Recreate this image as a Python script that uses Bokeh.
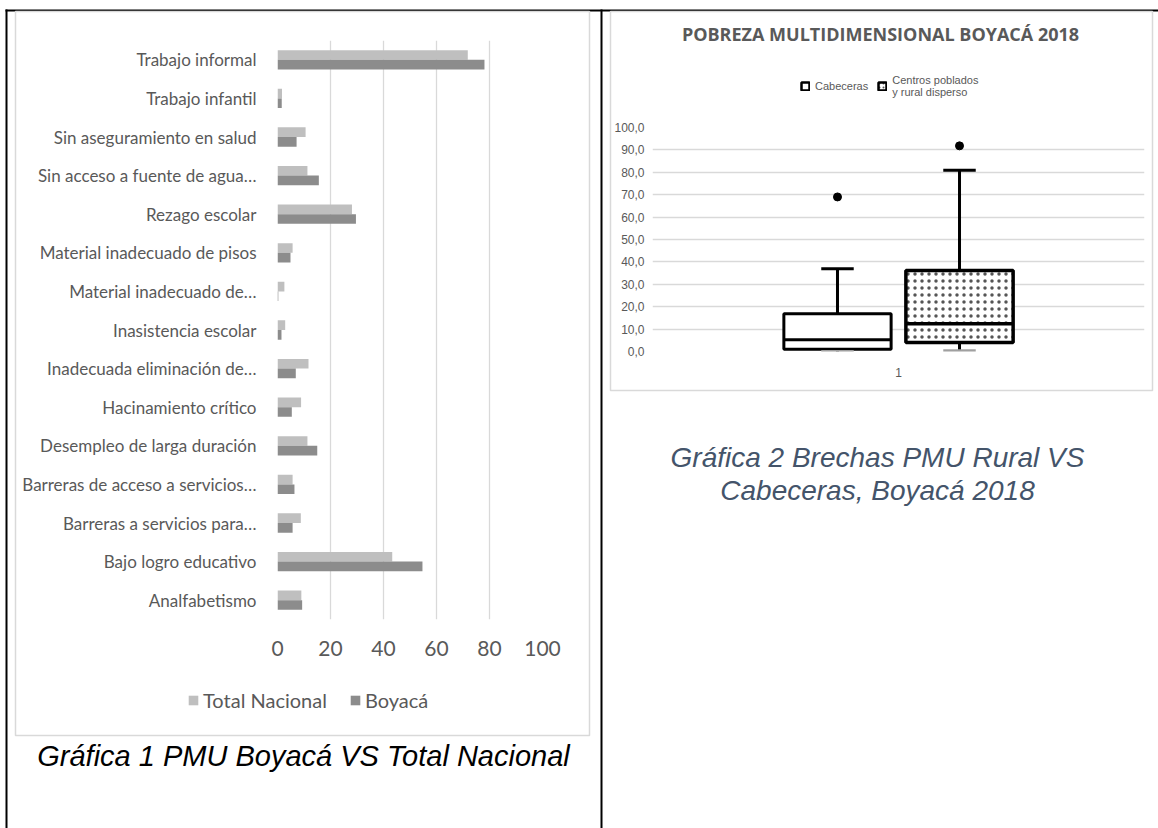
from bokeh.plotting import figure
from bokeh.models import (ColumnDataSource, FactorRange, Legend, LegendItem,
                          FixedTicker, Range1d)
from bokeh.transform import dodge
from bokeh.core.properties import value
from bokeh.embed import file_html
from bokeh.resources import INLINE

# ---------------- data: chart 1 ----------------
categories = [
    "Trabajo informal", "Trabajo infantil", "Sin aseguramiento en salud",
    "Sin acceso a fuente de agua…", "Rezago escolar", "Material inadecuado de pisos",
    "Material inadecuado de…", "Inasistencia escolar", "Inadecuada eliminación de…",
    "Hacinamiento crítico", "Desempleo de larga duración",
    "Barreras de acceso a servicios…", "Barreras a servicios para…",
    "Bajo logro educativo", "Analfabetismo",
]
total_nacional = [71.8, 1.7, 10.6, 11.3, 28.1, 5.7, 2.6, 2.9, 11.7, 8.9, 11.3, 5.7, 8.8, 43.3, 9.0]
boyaca = [78.1, 1.6, 7.2, 15.6, 29.6, 4.9, 0.3, 1.5, 6.9, 5.4, 15.0, 6.4, 5.7, 54.7, 9.3]
series_names = ["Total Nacional", "Boyacá"]
x_ticks = [0, 20, 40, 60, 80, 100]
caption1 = "Gráfica 1 PMU Boyacá VS Total Nacional"

# ---------------- data: chart 2 ----------------
box_title = "POBREZA MULTIDIMENSIONAL BOYACÁ 2018"
box_category = "1"
box_groups = ["Cabeceras", "Centros poblados\ny rural disperso"]
box_low = [0.0, 0.3]
box_q1 = [1.0, 4.0]
box_median = [5.2, 12.4]
box_q3 = [16.8, 36.2]
box_high = [36.9, 80.9]
box_outlier = [69.0, 91.8]
y_ticks = [0, 10, 20, 30, 40, 50, 60, 70, 80, 90, 100]
y_tick_labels = ["0,0", "10,0", "20,0", "30,0", "40,0", "50,0", "60,0", "70,0", "80,0", "90,0", "100,0"]
caption2 = ["Gráfica 2 Brechas PMU Rural VS", "Cabeceras, Boyacá 2018"]

# ---------------- styles ----------------
TXT = "#595959"
GRID = "#d9d9d9"
FONT = "Lato"
LIGHT = "#bfbfbf"
DARK = "#8c8c8c"
NAN = float("nan")


def pos(left, top):
    return {"position": "absolute", "left": f"{left}px", "top": f"{top}px"}


def set_borders(p, l, r, t, b):
    p.min_border_left, p.min_border_right, p.min_border_top, p.min_border_bottom = l, r, t, b


# ================= page background (table lines, frames, captions, legends) =================
bg = figure(width=1158, height=828, x_range=Range1d(0, 1158), y_range=Range1d(828, 0),
            x_axis_location=None, y_axis_location=None, toolbar_location=None,
            output_backend="svg", styles=pos(0, 0))
set_borders(bg, 0, 0, 0, 0)
bg.xgrid.visible = False
bg.ygrid.visible = False
bg.outline_line_color = None
bg.background_fill_color = "white"
bg.border_fill_color = "white"

# table lines (black) and chart frames (light gray)
bg.quad(left=[5, 5, 600], right=[1158, 7, 602], top=[9, 9, 9], bottom=[11, 828, 828],
        fill_color="black", line_color=None)
bg.quad(left=[15, 610], right=[589, 1152], top=[11, 11], bottom=[735, 390],
        fill_color=None, line_color=GRID, line_width=1.5)

# captions and chart 2 title
bg.text(x=[303], y=[755], text=[caption1], text_align="center", text_baseline="middle",
        text_font=value("Liberation Sans"), text_font_style="italic",
        text_font_size="29px", text_color="black")
bg.text(x=[877, 877], y=[457, 490], text=caption2, text_align="center", text_baseline="middle",
        text_font=value("Liberation Sans"), text_font_style="italic",
        text_font_size="28px", text_color="#44546a")
bg.text(x=[880], y=[33], text=[box_title], text_align="center", text_baseline="middle",
        text_font=value("Open Sans"), text_font_style="bold",
        text_font_size="18px", text_color=TXT)

# legend proxies (same styles as the chart glyphs; they draw nothing themselves)
lp_tn = bg.quad(left=[NAN], right=[NAN], top=[NAN], bottom=[NAN], fill_color=LIGHT,
                line_color=None)
lp_by = bg.quad(left=[NAN], right=[NAN], top=[NAN], bottom=[NAN], fill_color=DARK,
                line_color=None)
leg1 = Legend(items=[LegendItem(label=series_names[0], renderers=[lp_tn]),
                     LegendItem(label=series_names[1], renderers=[lp_by])],
              location=(187, 828 - 712), orientation="horizontal", glyph_width=12,
              glyph_height=12, label_text_font=FONT, label_text_font_size="20px",
              label_text_color=TXT, padding=0, margin=0, spacing=22, label_standoff=4,
              border_line_color=None, background_fill_alpha=0)
bg.add_layout(leg1, "center")

lp_c = bg.quad(left=[NAN], right=[NAN], top=[NAN], bottom=[NAN], fill_color="white",
               line_color="black", line_width=2.5)
lp_r = bg.quad(left=[NAN], right=[NAN], top=[NAN], bottom=[NAN], fill_color="white",
               line_color="black", line_width=2.5, hatch_pattern="dot",
               hatch_color="#555555", hatch_scale=4, hatch_weight=1)
leg2 = Legend(items=[LegendItem(label=box_groups[0], renderers=[lp_c]),
                     LegendItem(label=box_groups[1], renderers=[lp_r])],
              location=(800, 828 - 98), orientation="horizontal", glyph_width=10,
              glyph_height=10, label_text_font="Liberation Sans", label_text_font_size="11px",
              label_text_color=TXT, padding=0, margin=0, spacing=9, label_standoff=5,
              border_line_color=None, background_fill_alpha=0)
bg.add_layout(leg2, "center")

# ================= chart 1 =================
src1 = ColumnDataSource(dict(cat=categories, tn=total_nacional, by=boyaca))
p1 = figure(width=574, height=724, y_range=FactorRange(factors=list(reversed(categories))),
            x_range=Range1d(0, 100), output_backend="svg", toolbar_location=None,
            styles=pos(15, 11))
set_borders(p1, 262, 47, 29, 116)
p1.outline_line_color = None
p1.background_fill_color = None
p1.border_fill_color = None
p1.hbar(y=dodge("cat", 0.125, range=p1.y_range), left=0, right="tn", height=0.25,
        fill_color=LIGHT, line_color=None, source=src1)
p1.hbar(y=dodge("cat", -0.125, range=p1.y_range), left=0, right="by", height=0.25,
        fill_color=DARK, line_color=None, source=src1)

p1.xaxis.ticker = FixedTicker(ticks=x_ticks)
p1.xgrid.ticker = FixedTicker(ticks=x_ticks)
p1.xgrid.grid_line_color = GRID
p1.xgrid.grid_line_width = 1.3
p1.ygrid.grid_line_color = None
for ax in (p1.xaxis[0], p1.yaxis[0]):
    ax.axis_line_color = None
    ax.major_tick_line_color = None
    ax.minor_tick_line_color = None
    ax.major_label_text_color = TXT
    ax.major_label_text_font = FONT
p1.yaxis.major_label_text_font_size = "17px"
p1.yaxis.major_label_standoff = 15
p1.xaxis.major_label_text_font_size = "21px"
p1.xaxis.major_label_standoff = 15

# ================= chart 2 =================
p2 = figure(width=542, height=379, x_range=FactorRange(factors=[box_category]),
            y_range=Range1d(0, 100), output_backend="svg", toolbar_location=None,
            styles=pos(610, 11))
set_borders(p2, 42, 8, 116, 39)
p2.outline_line_color = None
p2.background_fill_color = None
p2.border_fill_color = None
p2.xgrid.grid_line_color = None
p2.ygrid.ticker = FixedTicker(ticks=y_ticks)
p2.ygrid.grid_line_color = GRID
p2.ygrid.grid_line_width = 1.5
p2.yaxis.ticker = FixedTicker(ticks=y_ticks)
p2.yaxis.major_label_overrides = {t: s for t, s in zip(y_ticks, y_tick_labels)}
for ax in (p2.xaxis[0], p2.yaxis[0]):
    ax.axis_line_color = None
    ax.major_tick_line_color = None
    ax.minor_tick_line_color = None
    ax.major_label_text_color = TXT
    ax.major_label_text_font = "Liberation Sans"
    ax.major_label_text_font_size = "12px"
p2.yaxis.major_label_standoff = 2
p2.xaxis.major_label_standoff = 10

offsets = [-0.124, 0.124]
half_w = 0.109
cap_hw = 0.033
xr = p2.x_range
for i, off in enumerate(offsets):
    s = ColumnDataSource(dict(cat=[box_category], lo=[box_low[i]], q1=[box_q1[i]],
                              med=[box_median[i]], q3=[box_q3[i]], hi=[box_high[i]],
                              out=[box_outlier[i]]))
    lw = 3 if i == 0 else 3.5
    p2.segment(x0=dodge("cat", off, range=xr), x1=dodge("cat", off, range=xr), y0="q3", y1="hi",
               line_color="black", line_width=3, source=s)
    p2.segment(x0=dodge("cat", off, range=xr), x1=dodge("cat", off, range=xr), y0="lo", y1="q1",
               line_color="black", line_width=3, source=s)
    extra = {}
    if i == 1:
        extra = dict(hatch_pattern="dot", hatch_color="#555555", hatch_scale=7, hatch_weight=1)
    p2.vbar(x=dodge("cat", off, range=xr), bottom="q1", top="q3", width=2 * half_w,
            fill_color="white", line_color="black", line_width=lw, source=s, **extra)
    p2.segment(x0=dodge("cat", off - half_w, range=xr), x1=dodge("cat", off + half_w, range=xr),
               y0="med", y1="med", line_color="black", line_width=lw, source=s)
    p2.segment(x0=dodge("cat", off - cap_hw, range=xr), x1=dodge("cat", off + cap_hw, range=xr),
               y0="hi", y1="hi", line_color="black", line_width=3, source=s)
    p2.segment(x0=dodge("cat", off - cap_hw, range=xr), x1=dodge("cat", off + cap_hw, range=xr),
               y0="lo", y1="lo", line_color="#a0a0a0", line_width=3, source=s)
    p2.scatter(x=dodge("cat", off, range=xr), y="out", size=8, fill_color="black",
               line_color="black", source=s)

open("out.html", "w").write(file_html([bg, p1, p2], INLINE))
